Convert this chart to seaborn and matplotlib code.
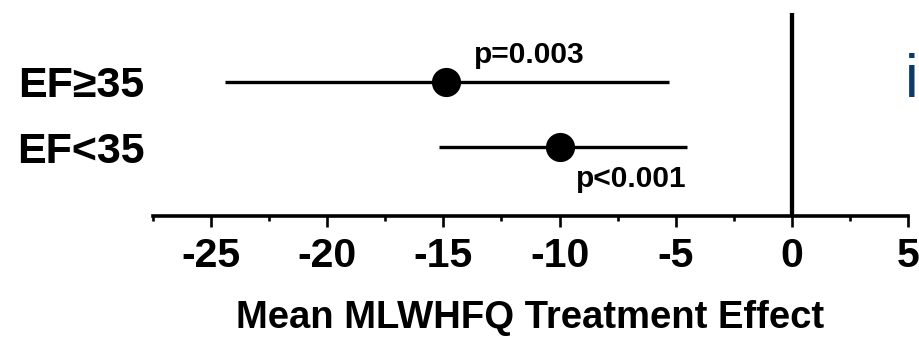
import matplotlib
matplotlib.use("Agg")
import matplotlib.pyplot as plt
import seaborn as sns
import pandas as pd
import numpy as np
from matplotlib.ticker import MultipleLocator

sns.set_theme(style="white")
plt.rcParams["font.family"] = ["Liberation Sans", "DejaVu Sans"]
plt.rcParams["text.color"] = "black"
plt.rcParams["axes.labelcolor"] = "black"
plt.rcParams["xtick.color"] = "black"
plt.rcParams["ytick.color"] = "black"

# Subgroup estimates (mean treatment effect with 95% CI)
groups = ["EF≥35", "EF<35"]
means = [-14.9, -10.0]
ci_low = [-24.4, -15.2]
ci_high = [-5.3, -4.5]
p_labels = ["p=0.003", "p<0.001"]
x_ticks = [-25, -20, -15, -10, -5, 0, 5]

df = pd.DataFrame({"group": groups, "mean": means, "lo": ci_low, "hi": ci_high,
                   "row": [1, 0]})

fig = plt.figure(figsize=(9.2, 3.37), dpi=100)
ax = fig.add_axes([0.1663, 0.359, 0.8207, 0.6024])

# confidence intervals
ax.hlines(df["row"], df["lo"], df["hi"], color="black", lw=2.4, zorder=2)
# point estimates
sns.scatterplot(data=df, x="mean", y="row", ax=ax, s=21 ** 2, color="black",
                edgecolor="black", linewidth=0, zorder=3, legend=False)

# line of no effect
ax.axvline(0, color="black", lw=3.1, zorder=1)

# p-value annotations
ax.text(-13.7, 1.29, p_labels[0], ha="left", va="baseline",
        fontsize=21.5, fontweight="bold", color="black")
ax.text(-9.3, -0.615, p_labels[1], ha="left", va="baseline",
        fontsize=21.5, fontweight="bold", color="black")

ax.set_xlim(-27.5, 5)
ax.set_ylim(-1.06, 2.06)
ax.set_xticks(x_ticks)
ax.set_xticklabels([str(t) for t in x_ticks], fontsize=29.5, fontweight="bold")
ax.xaxis.set_minor_locator(MultipleLocator(2.5))
ax.tick_params(axis="x", which="major", direction="out", length=8, width=1.9,
               pad=7, bottom=True, color="black", labelcolor="black")
ax.tick_params(axis="x", which="minor", direction="out", length=3.8, width=1.9,
               bottom=True, color="black")

ax.set_yticks(df["row"])
ax.set_yticklabels(groups, fontsize=31, fontweight="bold")
ax.tick_params(axis="y", length=0, pad=6, labelcolor="black")

ax.set_xlabel("Mean MLWHFQ Treatment Effect", fontsize=27.5, fontweight="bold",
              labelpad=18, color="black")
ax.set_ylabel("")

for side in ["top", "right", "left"]:
    ax.spines[side].set_visible(False)
ax.spines["bottom"].set_linewidth(2.6)
ax.spines["bottom"].set_color("black")

# partial logo glyph at right edge
fig.text(0.984, 0.712, "i", fontsize=44, color="#0d3a6b", ha="left",
         va="baseline")

fig.savefig("out.png", dpi=100, facecolor="white")
